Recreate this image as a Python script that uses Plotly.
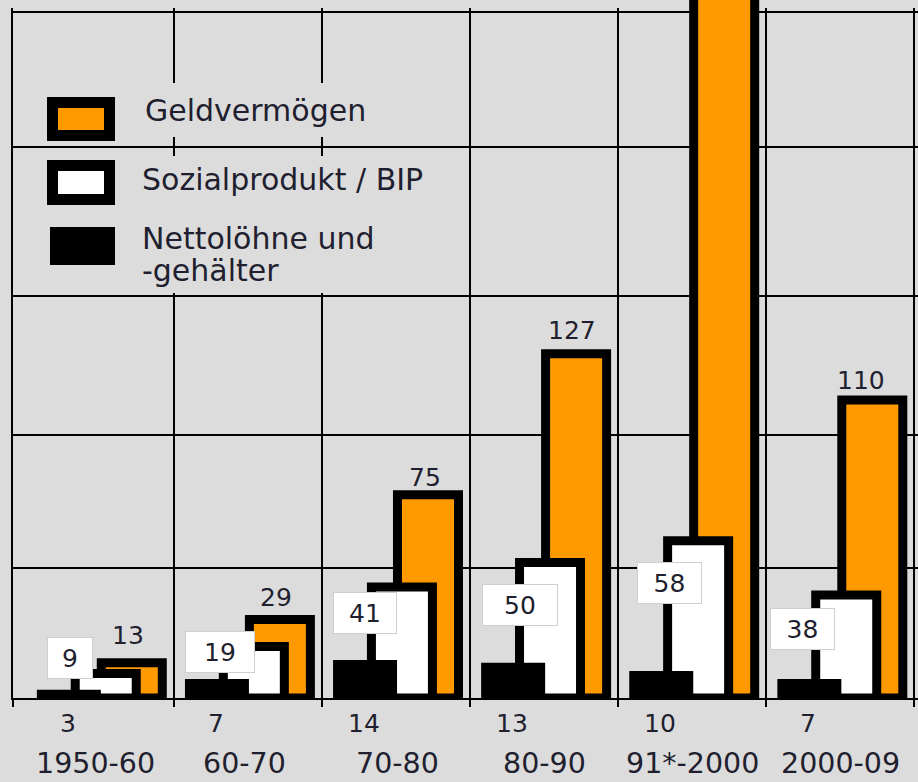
import plotly.graph_objects as go

# ---- data ----
categories = ["1950-60", "60-70", "70-80", "80-90", "91*-2000", "2000-09"]
nettoloehne = [3, 7, 14, 13, 10, 7]
sozialprodukt = [9, 19, 41, 50, 58, 38]
geldvermoegen = [13, 29, 75, 127, 280, 110]   # 91*-2000 bar runs off the top (estimate)
series_names = ["Geldvermögen", "Sozialprodukt / BIP", "Nettolöhne und", "-gehälter"]
grid_values = [48, 97, 148.3, 203.3, 253.1]   # horizontal grid lines of the original

# ---- style ----
BG = "#dcdcdc"
ORANGE = "#ff9900"
TXT = "#1f1f2f"
FONT = "DejaVu Sans"
W, H = 918, 782
L, B = 13, 84
PW, PH = W - L, H - B
S = 2.71           # px per unit (y)
YMAX = PH / S
GX = 148.1         # px per group
C0 = 99.8          # pixel centre of first group
X0 = (L - C0) / GX
X1 = (W - C0) / GX

def xp(px):
    return (px - L) / PW

def yp(py):
    return (PH - py) / PH

idx = list(range(len(categories)))

fig = go.Figure()
fig.add_trace(go.Bar(x=idx, y=geldvermoegen, offset=0.010, width=0.412,
                     marker=dict(color=ORANGE, line=dict(color="black", width=9)),
                     name=series_names[0], hoverinfo="y"))
fig.add_trace(go.Bar(x=idx, y=sozialprodukt, offset=-0.166, width=0.412,
                     marker=dict(color="white", line=dict(color="black", width=9)),
                     name=series_names[1], hoverinfo="y"))
fig.add_trace(go.Bar(x=idx, y=nettoloehne, offset=-0.425, width=0.432,
                     marker=dict(color="black", line=dict(width=0)),
                     name=series_names[2], hoverinfo="y"))

ann = []
# orange value labels above bars
o_yshift = [27, 22, 17, 23, 0, 19]
o_xshift = [28, 28, 29, 28, 28, 21]
for i, v in enumerate(geldvermoegen):
    if v <= YMAX:
        ann.append(dict(x=i, y=v, xshift=o_xshift[i], yshift=o_yshift[i], text=str(v),
                        showarrow=False, font=dict(family=FONT, size=25, color=TXT)))
# white value labels in boxes
w_xshift = [-30, -28, -31, -24, -23, -38]
w_yshift = [16, -5, -26, -42, -42, -34]
w_width = [36, 60, 54, 66, 55, 55]
for i, v in enumerate(sozialprodukt):
    ann.append(dict(x=i, y=v, xshift=w_xshift[i], yshift=w_yshift[i], text=str(v),
                    showarrow=False, bgcolor="white", bordercolor="#cfcfcf",
                    borderwidth=1, borderpad=4, width=w_width[i], height=32,
                    font=dict(family=FONT, size=25, color=TXT)))
# black values below axis
for i, v in enumerate(nettoloehne):
    ann.append(dict(x=i, y=0, xshift=-32, yshift=-25, text=str(v), showarrow=False,
                    font=dict(family=FONT, size=25, color=TXT)))
# category labels
c_xshift = [-4, -3, 1, 0, 0, 0]
for i, c in enumerate(categories):
    ann.append(dict(x=i, y=0, xshift=c_xshift[i], yshift=-65, text=c, showarrow=False,
                    font=dict(family=FONT, size=28.5, color=TXT)))
# legend texts
leg_txt = [(143, 110, series_names[0]), (140, 179, series_names[1]),
           (140, 238, series_names[2]), (140, 270, series_names[3])]
for x0, y0, t in leg_txt:
    ann.append(dict(xref="paper", yref="paper", x=xp(x0), y=yp(y0), xanchor="left",
                    yanchor="middle", text=t, showarrow=False,
                    font=dict(family=FONT, size=30, color=TXT)))

def cover(px0, px1, py0, py1):
    return dict(type="rect", xref="paper", yref="paper", x0=xp(px0), x1=xp(px1),
                y0=yp(py1), y1=yp(py0), fillcolor=BG, line=dict(width=0),
                layer="above")

shapes = [
    # blank strip above the top frame line (left and right of the tall bar)
    cover(0, 688, -2, 8),
    cover(760, 918, -2, 8),
    # vertical grid lines interrupted by the legend (short ticks left at the crossing)
    cover(167, 179, 83, 137), cover(167, 179, 156, 293),
    cover(316, 328, 83, 137), cover(316, 328, 156, 293),
    # legend swatches
    dict(type="rect", xref="paper", yref="paper", x0=xp(52.5), x1=xp(109.5),
         y0=yp(135.5), y1=yp(102.5), fillcolor=ORANGE,
         line=dict(color="black", width=11), layer="above"),
    dict(type="rect", xref="paper", yref="paper", x0=xp(52.5), x1=xp(109.5),
         y0=yp(199.5), y1=yp(165.5), fillcolor="white",
         line=dict(color="black", width=11), layer="above"),
    dict(type="rect", xref="paper", yref="paper", x0=xp(50), x1=xp(115),
         y0=yp(265), y1=yp(227), fillcolor="black",
         line=dict(width=0), layer="above"),
]

fig.update_layout(
    width=W, height=H,
    margin=dict(l=L, r=0, t=0, b=B),
    paper_bgcolor=BG, plot_bgcolor=BG,
    barmode="overlay", showlegend=False,
    annotations=ann, shapes=shapes,
    xaxis=dict(range=[X0, X1], tickmode="array", tickvals=idx,
               showticklabels=False, ticks="", showgrid=False, zeroline=False,
               showline=True, linecolor="black", linewidth=2,
               minor=dict(tickmode="array", tickvals=[X0, 0.5, 1.5, 2.5, 3.5, 4.5, 5.5],
                          showgrid=True, gridcolor="black", gridwidth=2,
                          ticks="outside", ticklen=7, tickwidth=2, tickcolor="black")),
    yaxis=dict(range=[0, YMAX], tickmode="array", tickvals=grid_values,
               showticklabels=False, ticks="", showgrid=True, gridcolor="black",
               gridwidth=2, zeroline=False, showline=True, linecolor="black",
               linewidth=2),
)

fig.write_html("out.html", config={"displayModeBar": False},
               post_script="document.body.style.margin='0';document.body.style.padding='0';")
